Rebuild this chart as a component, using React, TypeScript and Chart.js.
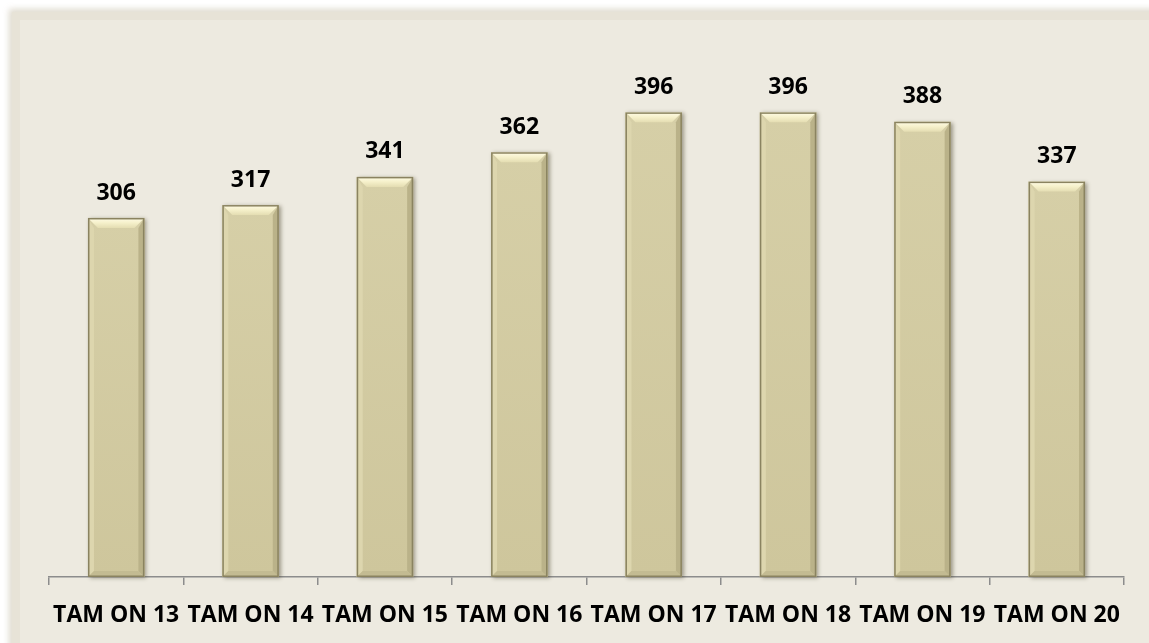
import React, { useEffect, useRef } from "react";
import { Chart, registerables } from "chart.js";

Chart.register(...registerables);

const categories = ["TAM ON 13", "TAM ON 14", "TAM ON 15", "TAM ON 16", "TAM ON 17", "TAM ON 18", "TAM ON 19", "TAM ON 20"];
const values = [306, 317, 341, 362, 396, 396, 388, 337];

const FONT = "'Open Sans', sans-serif";

const bevelPlugin = {
  id: "bevel",
  afterDatasetsDraw(chart: any) {
    const ctx = chart.ctx as CanvasRenderingContext2D;
    const meta = chart.getDatasetMeta(0);
    meta.data.forEach((bar: any, i: number) => {
      const { x, y, base, width } = bar.getProps(["x", "y", "base", "width"], true);
      const l = x - width / 2;
      const r = x + width / 2;
      const t = y;
      const b = base;
      const bv = 10;
      const sv = 6;
      ctx.save();
      const fg = ctx.createLinearGradient(0, t, 0, b);
      fg.addColorStop(0, "#D6CFA7");
      fg.addColorStop(1, "#CEC69C");
      ctx.fillStyle = fg;
      ctx.shadowColor = "rgba(60,55,30,0.45)";
      ctx.shadowBlur = 4;
      ctx.shadowOffsetX = 2;
      ctx.shadowOffsetY = 1;
      ctx.fillRect(l, t, width, b - t);
      ctx.restore();
      ctx.save();
      const tg = ctx.createLinearGradient(0, t, 0, t + bv);
      tg.addColorStop(0, "#FFFCE6");
      tg.addColorStop(0.5, "#F5F0CA");
      tg.addColorStop(1, "#E4DDB2");
      ctx.fillStyle = tg;
      ctx.beginPath();
      ctx.moveTo(l, t);
      ctx.lineTo(r, t);
      ctx.lineTo(r - bv, t + bv);
      ctx.lineTo(l + bv, t + bv);
      ctx.closePath();
      ctx.fill();
      ctx.fillStyle = "#DDD6AE";
      ctx.beginPath();
      ctx.moveTo(l, t);
      ctx.lineTo(l + sv, t + bv);
      ctx.lineTo(l + sv, b - sv);
      ctx.lineTo(l, b);
      ctx.closePath();
      ctx.fill();
      ctx.fillStyle = "#BAB289";
      ctx.beginPath();
      ctx.moveTo(r, t);
      ctx.lineTo(r - sv, t + bv);
      ctx.lineTo(r - sv, b - sv);
      ctx.lineTo(r, b);
      ctx.closePath();
      ctx.fill();
      ctx.fillStyle = "#C3BB92";
      ctx.beginPath();
      ctx.moveTo(l, b);
      ctx.lineTo(l + sv, b - sv);
      ctx.lineTo(r - sv, b - sv);
      ctx.lineTo(r, b);
      ctx.closePath();
      ctx.fill();
      ctx.strokeStyle = "#8A8360";
      ctx.lineWidth = 1.5;
      ctx.strokeRect(l + 0.75, t + 0.75, width - 1.5, b - t - 1.5);
      ctx.restore();
      ctx.save();
      ctx.fillStyle = "#000000";
      ctx.font = `bold 23px ${FONT}`;
      ctx.textAlign = "center";
      ctx.textBaseline = "middle";
      ctx.fillText(String(values[i]), x, t - 25);
      ctx.restore();
    });
  },
};

export default function App() {
  const ref = useRef<HTMLCanvasElement | null>(null);
  useEffect(() => {
    if (!ref.current) return;
    const chart = new Chart(ref.current, {
      type: "bar",
      data: {
        labels: categories,
        datasets: [
          {
            data: values,
            backgroundColor: "rgba(0,0,0,0)",
            borderWidth: 0,
            barPercentage: 0.42,
            categoryPercentage: 1,
          },
        ],
      },
      options: {
        responsive: false,
        animation: false,
        layout: { padding: { top: 49, left: 49, right: 25, bottom: 0 } },
        plugins: { legend: { display: false }, tooltip: { enabled: false } },
        scales: {
          y: { display: false, min: 0, max: 450 },
          x: {
            offset: true,
            afterFit: (scale: any) => { scale.height = 66; },
            grid: { display: true, offset: true, drawOnChartArea: false, drawTicks: true, tickLength: 8, color: "#8C8C8C", lineWidth: 1.5 },
            border: { display: true, color: "#8C8C8C", width: 1.5 },
            ticks: { color: "#000000", font: { family: FONT, size: 23, weight: "bold" }, padding: 17, maxRotation: 0, autoSkip: false },
          },
        },
      },
      plugins: [bevelPlugin],
    });
    return () => chart.destroy();
  }, []);
  return (
    <div style={{ position: "fixed", left: 0, top: 0, width: 1149, height: 643, overflow: "hidden", background: "#FFFFFF" }}>
      <div style={{ position: "absolute", left: 12, top: 12, width: 1200, height: 700, background: "#E7E3D7", boxShadow: "0 0 6px 3px rgba(215,210,195,0.8)" }} />
      <div style={{ position: "absolute", left: 20, top: 20, width: 1200, height: 700, background: "#EDEAE0" }} />
      <canvas ref={ref} width={1149} height={643} style={{ position: "absolute", left: 0, top: 0, width: 1149, height: 643 }} />
    </div>
  );
}
